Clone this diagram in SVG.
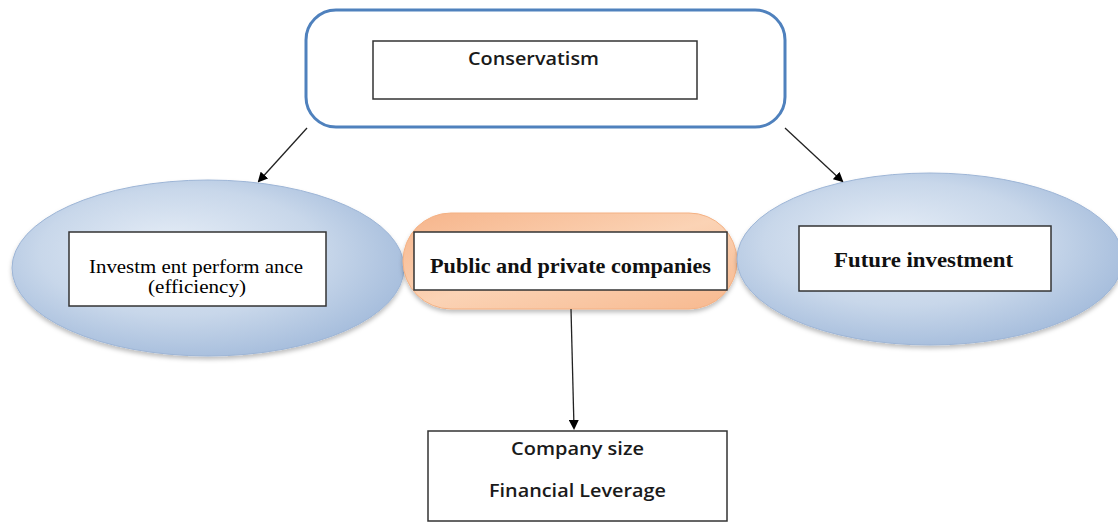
<svg xmlns="http://www.w3.org/2000/svg" width="1118" height="523" viewBox="0 0 1118 523">
<defs>
<radialGradient id="blueG" cx="0.45" cy="0.45" r="0.6" fx="0.4" fy="0.35">
<stop offset="0" stop-color="#e4ecf6"/>
<stop offset="0.6" stop-color="#c8d7ea"/>
<stop offset="1" stop-color="#a3bbdb"/>
</radialGradient>
<linearGradient id="orangeG" x1="0" y1="0" x2="1" y2="1">
<stop offset="0" stop-color="#f6b48a"/>
<stop offset="0.5" stop-color="#fbd3b5"/>
<stop offset="1" stop-color="#f7b88e"/>
</linearGradient>
<filter id="sh" x="-10%" y="-10%" width="120%" height="130%">
<feDropShadow dx="0" dy="3" stdDeviation="2" flood-color="#000" flood-opacity="0.25"/>
</filter>
<marker id="arr" markerWidth="10" markerHeight="10" refX="8" refY="5" orient="auto" markerUnits="userSpaceOnUse">
<path d="M0,0 L10,5 L0,10 z" fill="#000"/>
</marker>
</defs>
<style>
.box{fill:#fff;stroke:#333;stroke-width:1.5}
.ell{fill:url(#blueG);stroke:#9db5d6;stroke-width:1}
.conn{stroke:#222;stroke-width:1.3;fill:none;marker-end:url(#arr)}
.sans{font-family:"Open Sans","Liberation Sans",sans-serif;fill:#1a1a1a;font-weight:600;font-size:18px}
.serif{font-family:"Liberation Serif","DejaVu Serif",serif;fill:#111;font-weight:bold}
.serifn{font-family:"Liberation Serif","DejaVu Serif",serif;fill:#000;font-weight:normal}
</style>
<rect width="1118" height="523" fill="#fff"/>
<g id="conservatism">
<rect x="306" y="10" width="479" height="117" rx="30" ry="30" fill="#fff" stroke="#4f81bd" stroke-width="3"/>
<rect class="box" x="373" y="41" width="324" height="58"/>
<text class="sans" x="468" y="65" textLength="131" lengthAdjust="spacingAndGlyphs">Conservatism</text>
</g>
<g id="investment-performance">
<ellipse class="ell" cx="208" cy="268" rx="196" ry="88" filter="url(#sh)"/>
<rect class="box" x="69" y="232" width="257" height="74"/>
<text class="serifn" x="89" y="273" font-size="18" textLength="214" lengthAdjust="spacingAndGlyphs">Investm ent perform ance</text>
<text class="serifn" x="148" y="293" font-size="18" textLength="98" lengthAdjust="spacingAndGlyphs">(efficiency)</text>
</g>
<g id="public-private">
<rect x="403" y="213" width="334" height="96" rx="48" ry="48" fill="url(#orangeG)" stroke="#f4b183" stroke-width="1" filter="url(#sh)"/>
<rect class="box" x="414" y="232" width="313" height="58"/>
<text class="serif" x="430" y="273" font-size="20" textLength="281" lengthAdjust="spacingAndGlyphs">Public and private companies</text>
</g>
<g id="future-investment">
<ellipse class="ell" cx="930" cy="259" rx="193" ry="86" filter="url(#sh)"/>
<rect class="box" x="799" y="226" width="252" height="65"/>
<text class="serif" x="834" y="267" font-size="20" textLength="179" lengthAdjust="spacingAndGlyphs">Future investment</text>
</g>
<g id="company-size">
<rect class="box" x="428" y="431" width="299" height="90"/>
<text class="sans" x="511" y="455" textLength="133" lengthAdjust="spacingAndGlyphs">Company size</text>
<text class="sans" x="489" y="497" textLength="177" lengthAdjust="spacingAndGlyphs">Financial Leverage</text>
</g>
<g id="connectors">
<line class="conn" x1="307" y1="128" x2="259" y2="181"/>
<line class="conn" x1="785" y1="128" x2="842" y2="181"/>
<line class="conn" x1="571" y1="309" x2="574" y2="428"/>
</g>
</svg>
